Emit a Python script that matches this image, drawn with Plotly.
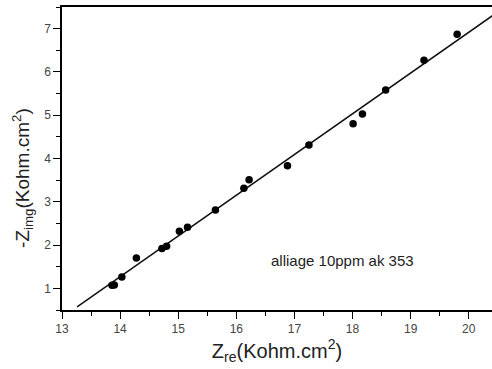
import plotly.graph_objects as go

z_re = [13.86, 13.90, 14.03, 14.28, 14.72, 14.80, 15.02, 15.16, 15.64, 16.13,
        16.22, 16.88, 17.25, 18.01, 18.17, 18.57, 19.23, 19.80]
z_img = [1.07, 1.08, 1.26, 1.70, 1.92, 1.97, 2.32, 2.41, 2.81, 3.31,
         3.51, 3.83, 4.31, 4.80, 5.03, 5.58, 6.27, 6.87]

fit_x = [13.26, 20.45]
fit_y = [0.57, 7.34]

x_ticks = [13, 14, 15, 16, 17, 18, 19, 20]
y_ticks = [1, 2, 3, 4, 5, 6, 7]

font_family = "Arial, Liberation Sans, sans-serif"

fig = go.Figure()
fig.add_trace(go.Scatter(x=fit_x, y=fit_y, mode="lines",
                         line=dict(color="#111111", width=1.5), showlegend=False,
                         cliponaxis=True))
fig.add_trace(go.Scatter(x=z_re, y=z_img, mode="markers",
                         marker=dict(color="#000000", size=7.5), showlegend=False))

fig.add_annotation(x=17.82, y=1.65, text="alliage 10ppm ak 353", showarrow=False,
                   font=dict(family=font_family, size=15, color="#222222"))

# y-axis title placed as a rotated annotation to match the reference position
fig.add_annotation(xref="paper", yref="paper", x=0, y=0.436, xshift=-39,
                   xanchor="center", yanchor="middle", textangle=-90, showarrow=False,
                   text="-Z<sub>img</sub>(Kohm.cm<sup>2</sup>)",
                   font=dict(family=font_family, size=19, color="#222222"))

axis_common = dict(
    showgrid=False, zeroline=False, showline=True, linecolor="#000000", linewidth=1.5,
    ticks="outside", ticklen=7, tickwidth=1.3, tickcolor="#000000",
    tickfont=dict(family=font_family, size=12, color="#444444"),
    automargin=False,
)

fig.update_xaxes(range=[13, 20.4], tickvals=x_ticks, mirror=True,
                 minor=dict(dtick=0.5, ticks="outside", ticklen=4, tickwidth=1.2,
                            tickcolor="#000000", showgrid=False),
                 title=dict(text="Z<sub>re</sub>(Kohm.cm<sup>2</sup>)",
                            font=dict(family=font_family, size=20, color="#222222"),
                            standoff=5),
                 **axis_common)
fig.update_yaxes(range=[0.5, 7.5], tickvals=y_ticks,
                 minor=dict(dtick=0.5, ticks="outside", ticklen=4, tickwidth=1.2,
                            tickcolor="#000000", showgrid=False),
                 **axis_common)

fig.update_layout(width=492, height=369, autosize=False,
                  margin=dict(l=62, r=0, t=7, b=59),
                  plot_bgcolor="white", paper_bgcolor="white")

fig.write_html("out.html", config={"displayModeBar": False},
               post_script="document.body.style.margin='0';document.body.style.overflow='hidden';")
